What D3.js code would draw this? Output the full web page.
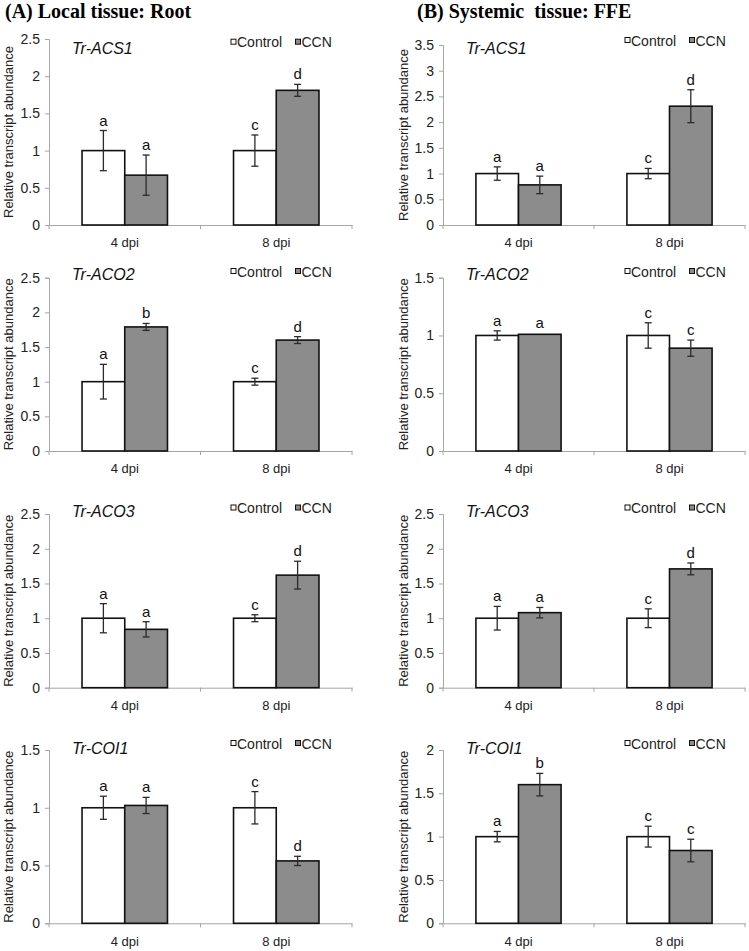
<!DOCTYPE html>
<html><head><meta charset="utf-8">
<script src="https://cdn.jsdelivr.net/npm/d3@7"></script>
<style>body{margin:0;background:#fff}svg{display:block}</style>
</head><body>
<script>
// ---- data ----
const tissueTitles = ["(A) Local tissue: Root", "(B) Systemic  tissue: FFE"];
const genes = ["Tr-ACS1", "Tr-ACO2", "Tr-ACO3", "Tr-COI1"];
const timepoints = ["4 dpi", "8 dpi"];
const seriesNames = ["Control", "CCN"];

const rootControl    = [[1.00, 1.00], [1.00, 1.00], [1.00, 1.00], [1.00, 1.00]];
const rootControlErr = [[0.27, 0.21], [0.25, 0.05], [0.21, 0.05], [0.10, 0.14]];
const rootCCN        = [[0.67, 1.81], [1.79, 1.60], [0.84, 1.62], [1.02, 0.54]];
const rootCCNErr     = [[0.27, 0.08], [0.05, 0.05], [0.11, 0.20], [0.07, 0.04]];
const rootControlLetters = [["a", "c"], ["a", "c"], ["a", "c"], ["a", "c"]];
const rootCCNLetters     = [["a", "d"], ["b", "d"], ["a", "d"], ["a", "d"]];
const rootYMax = [2.5, 2.5, 2.5, 1.5];

const ffeControl    = [[1.00, 1.00], [1.00, 1.00], [1.00, 1.00], [1.00, 1.00]];
const ffeControlErr = [[0.13, 0.10], [0.04, 0.11], [0.17, 0.135], [0.06, 0.12]];
const ffeCCN        = [[0.78, 2.31], [1.01, 0.89], [1.08, 1.71], [1.60, 0.84]];
const ffeCCNErr     = [[0.17, 0.32], [0.01, 0.07], [0.075, 0.085], [0.13, 0.13]];
const ffeControlLetters = [["a", "c"], ["a", "c"], ["a", "c"], ["a", "c"]];
const ffeCCNLetters     = [["a", "d"], ["a", "c"], ["a", "d"], ["b", "c"]];
const ffeYMax = [3.5, 1.5, 2.5, 2];

const yAxisTitle = "Relative transcript abundance";

// ---- layout ----
const W = 749, H = 951;
const svg = d3.select("body").append("svg").attr("width", W).attr("height", H);
const font = "'Liberation Sans', Arial, Helvetica, sans-serif";

const colLayout = [
  { x0: 49, x1: 352, titleX: 5, geneX: 72, legendX: 231, yTitleX: 13, tickX: 40,
    tops: [39, 277.7, 514, 750], legendY: [41.7, 271, 507.5, 743] },
  { x0: 443, x1: 745, titleX: 417, geneX: 466, legendX: 625, yTitleX: 408, tickX: 435,
    tops: [45, 277.7, 514, 750], legendY: [40, 271, 507.5, 743] }
];
const rowZero = [225, 451, 687.7, 923.3];
const geneBaseline = [54, 280, 517, 754];

const tissues = [
  { ctrl: rootControl, ctrlErr: rootControlErr, ccn: rootCCN, ccnErr: rootCCNErr,
    ctrlL: rootControlLetters, ccnL: rootCCNLetters, ymax: rootYMax },
  { ctrl: ffeControl, ctrlErr: ffeControlErr, ccn: ffeCCN, ccnErr: ffeCCNErr,
    ctrlL: ffeControlLetters, ccnL: ffeCCNLetters, ymax: ffeYMax }
];
const fills = { "Control": "#ffffff", "CCN": "#8c8c8c" };
const axisColor = "#a6a6a6";

tissues.forEach((t, c) => {
  const L = colLayout[c];
  svg.append("text").attr("x", L.titleX).attr("y", 18)
    .attr("font-family", "'Liberation Serif', 'Times New Roman', serif")
    .attr("font-weight", "bold").attr("font-size", 20).attr("fill", "#000")
    .attr("xml:space", "preserve").style("white-space", "pre")
    .text(tissueTitles[c]);

  genes.forEach((g, r) => {
    const y0 = rowZero[r], yT = L.tops[r];
    const y = d3.scaleLinear().domain([0, t.ymax[r]]).range([y0, yT]);
    const x = d3.scaleBand().domain(timepoints).range([L.x0, L.x1]).padding(0);
    const bw = x.bandwidth();
    const xs = d3.scaleBand().domain(seriesNames).range([bw * 0.218, bw * 0.782]).padding(0);
    const gp = svg.append("g");

    // y axis
    const ticks = d3.range(0, t.ymax[r] + 1e-9, 0.5);
    const ya = gp.append("g").attr("transform", `translate(${L.x0},0)`)
      .call(d3.axisLeft(y).tickValues(ticks).tickSize(4).tickPadding(5).tickFormat(d => String(+d.toFixed(1))));
    ya.select(".domain").attr("stroke", axisColor);
    ya.selectAll(".tick line").attr("stroke", axisColor);
    ya.selectAll(".tick text").attr("font-family", font).attr("font-size", 14).attr("fill", "#222");

    // x axis
    const xa = gp.append("g").attr("transform", `translate(0,${y0})`)
      .call(d3.axisBottom(x).tickSize(0).tickPadding(13));
    xa.select(".domain").attr("stroke", axisColor);
    xa.selectAll(".tick text").attr("font-family", font).attr("font-size", 13).attr("fill", "#222")
      .attr("dy", "0.71em");
    // separator ticks at band edges
    const edges = [L.x0, ...timepoints.map(d => x(d) + bw)];
    gp.selectAll(".edge").data(edges).enter().append("line")
      .attr("x1", d => d).attr("x2", d => d).attr("y1", y0).attr("y2", y0 + 4)
      .attr("stroke", axisColor);

    // y axis title
    gp.append("text").attr("transform", `translate(${L.yTitleX},${(y0 + yT) / 2}) rotate(-90)`)
      .attr("text-anchor", "middle").attr("font-family", font).attr("font-size", 13)
      .attr("fill", "#222").text(yAxisTitle);

    // bars
    const recs = [];
    timepoints.forEach((tp, i) => {
      recs.push({ tp, s: "Control", v: t.ctrl[r][i], e: t.ctrlErr[r][i], l: t.ctrlL[r][i] });
      recs.push({ tp, s: "CCN", v: t.ccn[r][i], e: t.ccnErr[r][i], l: t.ccnL[r][i] });
    });
    const bx = d => x(d.tp) + xs(d.s);
    const bwid = xs.bandwidth();
    gp.selectAll(".bar").data(recs).enter().append("rect")
      .attr("x", bx).attr("y", d => y(d.v)).attr("width", bwid).attr("height", d => y0 - y(d.v))
      .attr("fill", d => fills[d.s]).attr("stroke", "#111").attr("stroke-width", 1.6);

    // error bars
    const eg = gp.selectAll(".err").data(recs.filter(d => d.e > 0.02)).enter().append("g")
      .attr("stroke", "#2a2a2a").attr("stroke-width", 1.3);
    eg.append("line").attr("x1", d => bx(d) + bwid / 2).attr("x2", d => bx(d) + bwid / 2)
      .attr("y1", d => y(d.v + d.e)).attr("y2", d => y(d.v - d.e));
    eg.append("line").attr("x1", d => bx(d) + bwid / 2 - 3.5).attr("x2", d => bx(d) + bwid / 2 + 3.5)
      .attr("y1", d => y(d.v + d.e)).attr("y2", d => y(d.v + d.e));
    eg.append("line").attr("x1", d => bx(d) + bwid / 2 - 3.5).attr("x2", d => bx(d) + bwid / 2 + 3.5)
      .attr("y1", d => y(d.v - d.e)).attr("y2", d => y(d.v - d.e));

    // letters
    gp.selectAll(".let").data(recs).enter().append("text")
      .attr("x", d => bx(d) + bwid / 2).attr("y", d => y(d.v + d.e) - 5)
      .attr("text-anchor", "middle").attr("font-family", font).attr("font-size", 15)
      .attr("fill", "#111").text(d => d.l);

    // gene label
    gp.append("text").attr("x", L.geneX).attr("y", geneBaseline[r])
      .attr("font-family", font).attr("font-style", "italic").attr("font-size", 16)
      .attr("fill", "#111").text(g);

    // legend
    const ly = L.legendY[r];
    seriesNames.forEach((s, k) => {
      const lx = L.legendX + k * 64.5;
      gp.append("rect").attr("x", lx).attr("y", ly - 2.5).attr("width", 5).attr("height", 5)
        .attr("fill", fills[s]).attr("stroke", "#111").attr("stroke-width", 1);
      gp.append("text").attr("x", lx + 6).attr("y", ly + 5.5)
        .attr("font-family", font).attr("font-size", 14).attr("fill", "#222").text(s);
    });
  });
});
</script>
</body></html>
